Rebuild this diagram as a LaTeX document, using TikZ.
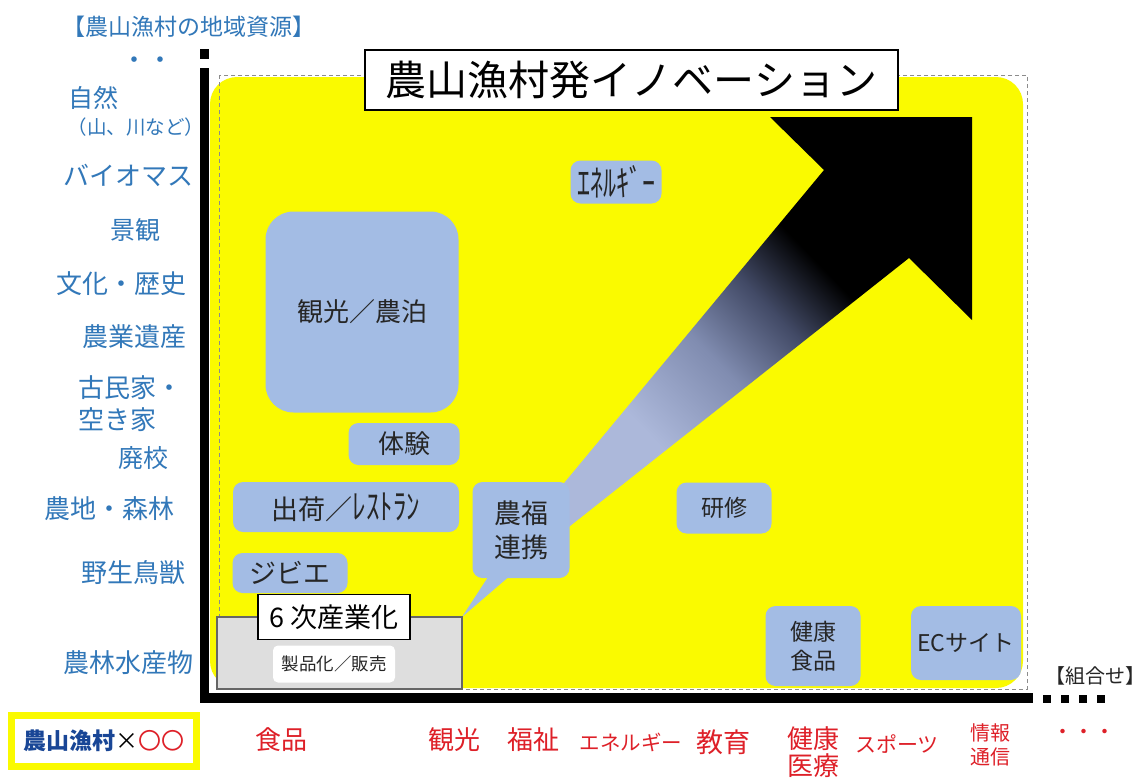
\documentclass[tikz,border=0pt]{standalone}
\usepackage{fontspec}
\setmainfont{Noto Sans CJK JP}
\definecolor{resblue}{RGB}{50,120,185}
\definecolor{nodeblue}{RGB}{163,188,228}
\definecolor{ylw}{RGB}{250,250,0}
\definecolor{redtxt}{RGB}{222,32,40}
\definecolor{darkblue}{RGB}{25,70,150}
\definecolor{arrlight}{RGB}{172,184,218}
\definecolor{arrmidA}{RGB}{128,140,176}
\definecolor{arrmidB}{RGB}{66,74,102}
\definecolor{grayfill}{RGB}{222,222,222}
\pgfdeclarehorizontalshading{arrshade}{100bp}{color(0bp)=(arrlight); color(31bp)=(arrlight); color(43bp)=(arrmidA); color(52bp)=(arrmidB); color(60bp)=(black); color(100bp)=(black)}
\newcommand{\fsz}[2]{\fontsize{#1}{#2}\selectfont}
\begin{document}
\begin{tikzpicture}[x=1pt,y=-1pt,
  res/.style={text=resblue, inner sep=0pt, align=center},
  blk/.style={fill=nodeblue, rounded corners=10pt, inner sep=0pt, align=center, text=black!85},
  comb/.style={text=redtxt, inner sep=0pt, align=center},
  axisbar/.style={fill=black},
  dashbox/.style={draw=black!45, dashed, dash pattern=on 4pt off 3pt, line width=0.8pt}
]
\useasboundingbox (0,0) rectangle (1145,780);
\fill[white] (0,0) rectangle (1145,780);

% yellow field and dashed frame
\fill[ylw, rounded corners=27pt] (210,77) rectangle (1023,688);
\draw[dashbox] (219,75) rectangle (1027,689);

% big arrow
\shade[shading=arrshade, shading angle=44]
  (550,500) -- (824,170) -- (770,117) -- (972,117) -- (972,320) -- (909,258) -- (565,530) -- cycle;

% callout tail
\fill[nodeblue] (490,574) -- (512,574) -- (462,617) -- cycle;

% blue nodes
\node[blk, rounded corners=28pt, minimum width=193pt, minimum height=201pt, font=\fsz{26}{30}] (kanko) at (362,312) {観光／農泊};
\node[blk, minimum width=111pt, minimum height=42pt, font=\fsz{26}{30}] (taiken) at (404,444) {体験};
\node[blk, minimum width=226pt, minimum height=50pt, font=\fsz{27}{30}] (shukka) at (346,507) {出荷／\scalebox{1}[1.3]{ﾚｽﾄﾗﾝ}};
\node[blk, minimum width=115pt, minimum height=40pt, font=\fsz{27}{30}] (jibie) at (290,573) {ジビエ};
\node[blk, minimum width=91pt, minimum height=43pt, font=\fsz{26}{28}] (energy) at (616,182) {\scalebox{1}[1.4]{ｴﾈﾙｷﾞｰ}};
\node[blk, minimum width=97pt, minimum height=96pt, font=\fsz{27}{34}] (noufuku) at (521,530) {農福\\連携};
\node[blk, minimum width=95pt, minimum height=51pt, font=\fsz{23}{26}] (kenshu) at (724,508) {研修};
\node[blk, minimum width=95pt, minimum height=80pt, font=\fsz{23}{29}] (kenko) at (813,646) {健康\\食品};
\node[blk, minimum width=110pt, minimum height=74pt, font=\fsz{23}{26}] (ec) at (966,643) {ECサイト};

% 6th industrialization block
\node[fill=grayfill, draw=black!60, line width=1.5pt, minimum width=245pt, minimum height=72pt, inner sep=0pt] (gray) at (339.5,653) {};
\node[fill=white, rounded corners=5pt, minimum width=122pt, minimum height=37pt, inner sep=0pt, font=\fsz{17.5}{20}, text=black!85] (seihin) at (334,664) {製品化／販売};
\node[fill=white, draw=black, line width=1.5pt, minimum width=152pt, minimum height=45pt, inner sep=0pt, font=\fsz{27}{30}] (roku) at (334,617) {6 次産業化};

% title
\node[fill=white, draw=black, line width=1.5pt, minimum width=533pt, minimum height=60pt, inner sep=0pt, font=\fsz{41}{44}] (title) at (631.5,80) {農山漁村発イノベーション};

% axes
\fill[axisbar] (200,49) rectangle (209,59);
\fill[axisbar] (200,68) rectangle (209,703);
\fill[axisbar] (200,693) rectangle (1033,703);
\foreach \sx in {1043,1061,1079,1097}
  \fill[axisbar] (\sx,695) rectangle ++(7.5,8);

% left axis labels
\node[res, font=\fsz{23}{26}] (reshead) at (189,27) {【農山漁村の地域資源】};
\node[res, font=\fsz{26}{28}] (dots) at (147,63) {・・};
\node[res, font=\fsz{25}{28}] (shizen) at (93,98) {自然};
\node[res, font=\fsz{19.5}{22}] (yama) at (136,127) {（山、川など）};
\node[res, font=\fsz{26}{28}] (bio) at (128,175) {バイオマス};
\node[res, font=\fsz{25}{28}] (keikan) at (135,230) {景観};
\node[res, font=\fsz{26}{28}] (bunka) at (121,284) {文化・歴史};
\node[res, font=\fsz{26}{28}] (isan) at (134,337) {農業遺産};
\node[res, font=\fsz{26}{32}, align=left, anchor=west] (kominka) at (78,404) {古民家・\\空き家};
\node[res, font=\fsz{25}{28}] (haikou) at (143,458) {廃校};
\node[res, font=\fsz{26}{28}] (nouchi) at (109,509) {農地・森林};
\node[res, font=\fsz{26}{28}] (yasei) at (133,573) {野生鳥獣};
\node[res, font=\fsz{26}{28}] (nourin) at (128,663) {農林水産物};

% bottom combination labels
\node[fill=white, draw=ylw, line width=7pt, minimum width=185pt, minimum height=51pt, inner sep=0pt, font=\fsz{23}{26}] (combo) at (104,741) {\textcolor{darkblue}{\bfseries 農山漁村}×\textcolor{redtxt}{〇〇}};
\node[comb, font=\fsz{26}{28}] (shokuhin) at (281,740) {食品};
\node[comb, font=\fsz{26}{28}] (kankou2) at (454,740) {観光};
\node[comb, font=\fsz{26}{28}] (fukushi) at (533,740) {福祉};
\node[comb, font=\fsz{20.5}{24}] (energy2) at (631,742) {エネルギー};
\node[comb, font=\fsz{27}{30}] (kyouiku) at (723,742) {教育};
\node[comb, font=\fsz{26}{27}] (iryou) at (813,752) {健康\\医療};
\node[comb, font=\fsz{21}{24}] (sports) at (897,744) {スポーツ};
\node[comb, font=\fsz{20}{24}] (joho) at (990,745) {情報\\通信};
\node[comb, font=\fsz{21}{24}] (etc) at (1084,734) {・・・};
\node[inner sep=0pt, font=\fsz{20}{24}, text=black!85] (kumiawase) at (1095,676) {【組合せ】};
\end{tikzpicture}
\end{document}
